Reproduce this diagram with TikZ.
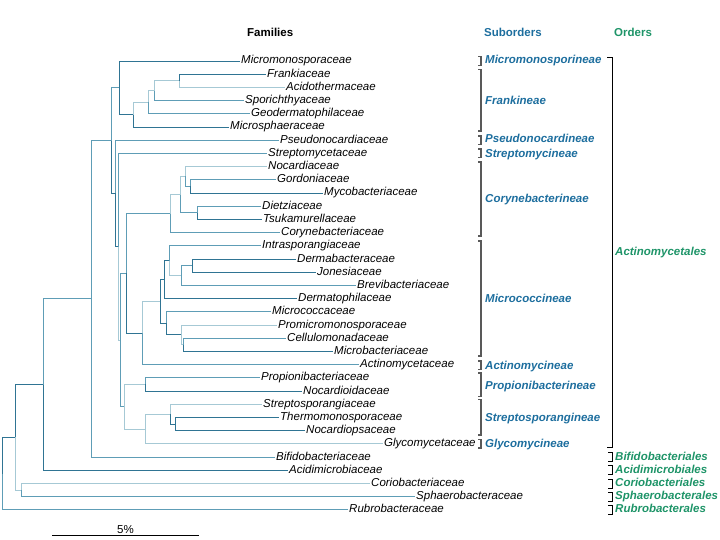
\documentclass[tikz,border=0pt]{standalone}
\usepackage{fontspec}
\setmainfont{Liberation Sans}
\definecolor{brdark}{HTML}{2F7493}
\definecolor{brmid}{HTML}{5E9DB6}
\definecolor{brlight}{HTML}{A6C9D5}
\definecolor{subblue}{HTML}{1D6E9E}
\definecolor{ordgreen}{HTML}{1E9468}
\tikzset{
  fam/.style={anchor=west, inner sep=1pt, text height=7pt, text depth=1pt,
              font={\fontsize{11.5}{13}\selectfont\itshape}},
  sub/.style={anchor=west, inner sep=1pt, text height=7pt, text depth=1pt,
              text=subblue, font={\fontsize{11.5}{13}\selectfont\bfseries\itshape}},
  ord/.style={sub, text=ordgreen},
  head/.style={anchor=west, inner sep=1pt, font={\fontsize{11.5}{13}\selectfont\bfseries}},
  br/.style={line width=0.9pt, to path={|- (\tikztotarget)}},
  bdark/.style={draw=brdark},
  bmid/.style={draw=brmid},
  blight/.style={draw=brlight},
  subbr/.style={draw=black!65, line width=1.1pt},
  ordbr/.style={draw=black, line width=0.8pt}
}

\begin{document}
\begin{tikzpicture}[x=1pt, y=-1pt]
        \useasboundingbox (0,0) rectangle (720,540);

        % headers
        \node[head]                (h_fam) at (246,32) {Families};
        \node[head, text=subblue]  (h_sub) at (483,32) {Suborders};
        \node[head, text=ordgreen] (h_ord) at (613,32) {Orders};

        % families
        \node[fam] (f_1)  at (240,61.0)  {Micromonosporaceae};
        \node[fam] (f_2)  at (266,74.2)  {Frankiaceae};
        \node[fam] (f_3)  at (285,87.4)  {Acidothermaceae};
        \node[fam] (f_4)  at (244,100.6) {Sporichthyaceae};
        \node[fam] (f_5)  at (250,113.8) {Geodermatophilaceae};
        \node[fam] (f_6)  at (229,127.0) {Microsphaeraceae};
        \node[fam] (f_7)  at (279,140.2) {Pseudonocardiaceae};
        \node[fam] (f_8)  at (267,153.4) {Streptomycetaceae};
        \node[fam] (f_9)  at (267,166.6) {Nocardiaceae};
        \node[fam] (f_10) at (276,179.8) {Gordoniaceae};
        \node[fam] (f_11) at (323,193.0) {Mycobacteriaceae};
        \node[fam] (f_12) at (261,206.2) {Dietziaceae};
        \node[fam] (f_13) at (262,219.4) {Tsukamurellaceae};
        \node[fam] (f_14) at (280,232.6) {Corynebacteriaceae};
        \node[fam] (f_15) at (261,245.8) {Intrasporangiaceae};
        \node[fam] (f_16) at (296,259.0) {Dermabacteraceae};
        \node[fam] (f_17) at (316,272.2) {Jonesiaceae};
        \node[fam] (f_18) at (356,285.4) {Brevibacteriaceae};
        \node[fam] (f_19) at (297,298.6) {Dermatophilaceae};
        \node[fam] (f_20) at (271,311.8) {Micrococcaceae};
        \node[fam] (f_21) at (277,325.0) {Promicromonosporaceae};
        \node[fam] (f_22) at (286,338.2) {Cellulomonadaceae};
        \node[fam] (f_23) at (333,351.4) {Microbacteriaceae};
        \node[fam] (f_24) at (359,364.6) {Actinomycetaceae};
        \node[fam] (f_25) at (260,377.8) {Propionibacteriaceae};
        \node[fam] (f_26) at (302,391.0) {Nocardioidaceae};
        \node[fam] (f_27) at (262,404.2) {Streptosporangiaceae};
        \node[fam] (f_28) at (279,417.4) {Thermomonosporaceae};
        \node[fam] (f_29) at (305,430.6) {Nocardiopsaceae};
        \node[fam] (f_30) at (383,443.8) {Glycomycetaceae};
        \node[fam] (f_31) at (275,457.0) {Bifidobacteriaceae};
        \node[fam] (f_32) at (288,470.2) {Acidimicrobiaceae};
        \node[fam] (f_33) at (370,483.4) {Coriobacteriaceae};
        \node[fam] (f_34) at (415,496.6) {Sphaerobacteraceae};
        \node[fam] (f_35) at (348,509.8) {Rubrobacteraceae};

        % inner nodes of the tree
        \coordinate (n_fa)    at (179,80.8);
        \coordinate (n_fas)   at (154,90.7);
        \coordinate (n_fasg)  at (148,102.25);
        \coordinate (n_frank) at (133,114.6);
        \coordinate (n_mf)    at (119.5,87.8);
        \coordinate (n_gm)    at (190.5,186.4);
        \coordinate (n_ngm)   at (185.5,176.5);
        \coordinate (n_dt)    at (197,212.8);
        \coordinate (n_ngmdt) at (180,194.65);
        \coordinate (n_cory)  at (170.5,213.6);
        \coordinate (n_dj)    at (192.5,265.6);
        \coordinate (n_djb)   at (181,275.5);
        \coordinate (n_idjb)  at (169,260.65);
        \coordinate (n_idjbd) at (164.3,279.6);
        \coordinate (n_pcm)   at (183.5,344.8);
        \coordinate (n_prom)  at (181.5,334.9);
        \coordinate (n_mic)   at (166.7,323.35);
        \coordinate (n_mcc)   at (160.7,301.5);
        \coordinate (n_acti)  at (142.7,333.05);
        \coordinate (n_cm)    at (126.5,273.3);
        \coordinate (n_prop)  at (145.7,384.4);
        \coordinate (n_tn)    at (175.7,424);
        \coordinate (n_strp)  at (170.3,414.1);
        \coordinate (n_sg)    at (145.5,428.95);
        \coordinate (n_ps)    at (124.3,406.7);
        \coordinate (n_cmps)  at (120.3,340);
        \coordinate (n_str)   at (118.3,246.7);
        \coordinate (n_pseu)  at (115.3,193.45);
        \coordinate (n_actm)  at (111.7,140.6);
        \coordinate (n_bif)   at (91,298.8);
        \coordinate (n_acm)   at (43,384.5);
        \coordinate (n_cs)    at (21.7,490);
        \coordinate (n_out)   at (15,437.25);
        \coordinate (n_root)  at (2,473.5);

        \path (n_root)  edge[br,bdark]  (n_out)
                        edge[br,bmid]   (f_35)
              (n_out)   edge[br,bdark]  (n_acm)
                        edge[br,blight] (n_cs)
              (n_cs)    edge[br,blight] (f_33)
                        edge[br,bmid]   (f_34)
              (n_acm)   edge[br,bmid]   (n_bif)
                        edge[br,bdark]  (f_32)
              (n_bif)   edge[br,bmid]   (n_actm)
                        edge[br,bmid]   (f_31)
              (n_actm)  edge[br,bmid]   (n_mf)
                        edge[br,bdark]  (n_pseu)
              (n_mf)    edge[br,bdark]  (f_1)
                        edge[br,bdark]  (n_frank)
              (n_frank) edge[br,blight] (n_fasg)
                        edge[br,bdark]  (f_6)
              (n_fasg)  edge[br,blight] (n_fas)
                        edge[br,bmid]   (f_5)
              (n_fas)   edge[br,blight] (n_fa)
                        edge[br,bmid]   (f_4)
              (n_fa)    edge[br,bdark]  (f_2)
                        edge[br,blight] (f_3)
              (n_pseu)  edge[br,bmid]   (f_7)
                        edge[br,bdark]  (n_str)
              (n_str)   edge[br,bmid]   (f_8)
                        edge[br,blight] (n_cmps)
              (n_cmps)  edge[br,bmid]   (n_cm)
                        edge[br,bmid]   (n_ps)
              (n_cm)    edge[br,bmid]   (n_cory)
                        edge[br,bdark]  (n_acti)
              (n_cory)  edge[br,blight] (n_ngmdt)
                        edge[br,bmid]   (f_14)
              (n_ngmdt) edge[br,blight] (n_ngm)
                        edge[br,bmid]   (n_dt)
              (n_ngm)   edge[br,blight] (f_9)
                        edge[br,bmid]   (n_gm)
              (n_gm)    edge[br,bmid]   (f_10)
                        edge[br,bdark]  (f_11)
              (n_dt)    edge[br,bmid]   (f_12)
                        edge[br,bdark]  (f_13)
              (n_acti)  edge[br,blight] (n_mcc)
                        edge[br,bmid]   (f_24)
              (n_mcc)   edge[br,bdark]  (n_idjbd)
                        edge[br,bdark]  (n_mic)
              (n_idjbd) edge[br,bdark]  (n_idjb)
                        edge[br,bdark]  (f_19)
              (n_idjb)  edge[br,bmid]   (f_15)
                        edge[br,blight] (n_djb)
              (n_djb)   edge[br,bmid]   (n_dj)
                        edge[br,bmid]   (f_18)
              (n_dj)    edge[br,bdark]  (f_16)
                        edge[br,bdark]  (f_17)
              (n_mic)   edge[br,bmid]   (f_20)
                        edge[br,bdark]  (n_prom)
              (n_prom)  edge[br,blight] (f_21)
                        edge[br,blight] (n_pcm)
              (n_pcm)   edge[br,bmid]   (f_22)
                        edge[br,bdark]  (f_23)
              (n_ps)    edge[br,blight] (n_prop)
                        edge[br,blight] (n_sg)
              (n_prop)  edge[br,bmid]   (f_25)
                        edge[br,bdark]  (f_26)
              (n_sg)    edge[br,blight] (n_strp)
                        edge[br,blight] (f_30)
              (n_strp)  edge[br,blight] (f_27)
                        edge[br,bdark]  (n_tn)
              (n_tn)    edge[br,bdark]  (f_28)
                        edge[br,bdark]  (f_29);

        % suborders
        \node[sub] (s_1)  at (484,61)  {Micromonosporineae};
        \node[sub] (s_2)  at (484,102) {Frankineae};
        \node[sub] (s_3)  at (484,140) {Pseudonocardineae};
        \node[sub] (s_4)  at (484,154.5) {Streptomycineae};
        \node[sub] (s_5)  at (484,200) {Corynebacterineae};
        \node[sub] (s_6)  at (484,299) {Micrococcineae};
        \node[sub] (s_7)  at (484,366) {Actinomycineae};
        \node[sub] (s_8)  at (484,386) {Propionibacterineae};
        \node[sub] (s_9)  at (484,418) {Streptosporangineae};
        \node[sub] (s_10) at (484,444) {Glycomycineae};

        \draw[subbr] (478,56.5) -| (481,65.5) -- (478,65.5);
        \draw[subbr] (478,69.5) -| (481,131) -- (478,131);
        \draw[subbr] (478,136)  -| (481,144.5) -- (478,144.5);
        \draw[subbr] (478,149)  -| (481,157.5) -- (478,157.5);
        \draw[subbr] (478,162)  -| (481,236) -- (478,236);
        \draw[subbr] (478,241)  -| (481,356) -- (478,356);
        \draw[subbr] (478,361)  -| (481,369.5) -- (478,369.5);
        \draw[subbr] (478,373)  -| (481,396.5) -- (478,396.5);
        \draw[subbr] (478,399.5) -| (481,435) -- (478,435);
        \draw[subbr] (478,439.5) -| (481,448) -- (478,448);

        % orders
        \node[ord] (o_1) at (614,252)   {Actinomycetales};
        \node[ord] (o_2) at (614,457)   {Bifidobacteriales};
        \node[ord] (o_3) at (614,470.2) {Acidimicrobiales};
        \node[ord] (o_4) at (614,483)   {Coriobacteriales};
        \node[ord] (o_5) at (614,496.6) {Sphaerobacterales};
        \node[ord] (o_6) at (614,509.8) {Rubrobacterales};

        \draw[ordbr] (607,57)    -| (612,447) -- (607,447);
        \draw[ordbr] (608,452.5) -| (612,461.5) -- (608,461.5);
        \draw[ordbr] (608,465.7) -| (612,474.7) -- (608,474.7);
        \draw[ordbr] (608,478.9) -| (612,487.9) -- (608,487.9);
        \draw[ordbr] (608,492.1) -| (612,501.1) -- (608,501.1);
        \draw[ordbr] (608,505.3) -| (612,514.3) -- (608,514.3);

        % scale
        \coordinate (sc_l) at (52,535);
        \coordinate (sc_r) at (199,535);
        \draw[line width=0.7pt] (sc_l) -- node[above, inner sep=1.5pt,
              font={\fontsize{11.5}{13}\selectfont}] (sc_t) {5\%} (sc_r);
\end{tikzpicture}
\end{document}
